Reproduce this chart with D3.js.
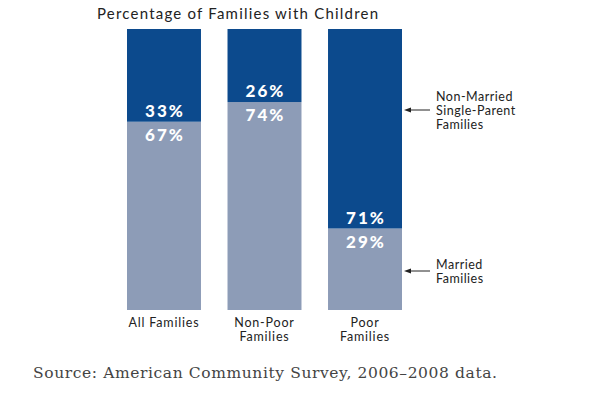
<!DOCTYPE html>
<html><head><meta charset="utf-8">
<script src="https://cdn.jsdelivr.net/npm/d3@7"></script>
<style>body{margin:0;background:#fff;}svg{display:block;}</style>
</head><body>
<svg id="c" width="600" height="400"></svg>
<script>
const categories = ["All Families", "Non-Poor Families", "Poor Families"];
const categoryLines = [["All Families"], ["Non-Poor", "Families"], ["Poor", "Families"]];
const married = [67, 74, 29];
const singleParent = [33, 26, 71];
const seriesLabels = [["Non-Married", "Single-Parent", "Families"], ["Married", "Families"]];
const title = "Percentage of Families with Children";
const source = "Source: American Community Survey, 2006\u20132008 data.";

const svg = d3.select("#c");
const x = d3.scaleBand().domain(categories).range([127, 402]).paddingInner(0.264).paddingOuter(0);
const y = d3.scaleLinear().domain([0, 100]).range([310, 29]);
const dark = "#0c4a8d", light = "#8d9cb7";
const sans = "Lato, 'Open Sans', sans-serif";

svg.append("text").attr("x", 97).attr("y", 19).attr("font-family", sans).attr("font-size", 15)
  .attr("fill", "#222").attr("textLength", 281).attr("lengthAdjust", "spacing").text(title);

const data = categories.map((c, i) => ({c, m: married[i], s: singleParent[i], lines: categoryLines[i]}));
const g = svg.append("g");
g.selectAll(".m").data(data).join("rect").attr("x", d => x(d.c)).attr("width", x.bandwidth())
  .attr("y", d => y(d.m)).attr("height", d => y(0) - y(d.m)).attr("fill", light);
g.selectAll(".s").data(data).join("rect").attr("x", d => x(d.c)).attr("width", x.bandwidth())
  .attr("y", d => y(d.m + d.s)).attr("height", d => y(d.m) - y(d.m + d.s)).attr("fill", dark);

const lab = (sel) => sel.attr("text-anchor", "middle").attr("font-family", sans).attr("font-weight", 900)
  .attr("font-size", 17).attr("letter-spacing", 2).attr("fill", "#fff");
g.selectAll(".ls").data(data).join("text").call(lab)
  .attr("x", d => x(d.c) + x.bandwidth() / 2 + 1).attr("y", d => y(d.m) - 5).text(d => d.s + "%");
g.selectAll(".lm").data(data).join("text").call(lab)
  .attr("x", d => x(d.c) + x.bandwidth() / 2 + 1).attr("y", d => y(d.m) + 19).text(d => d.m + "%");

// category labels
data.forEach(d => {
  d.lines.forEach((t, j) => {
    svg.append("text").attr("x", x(d.c) + x.bandwidth() / 2).attr("y", 327 + j * 14)
      .attr("text-anchor", "middle").attr("font-family", sans).attr("font-size", 12.5)
      .attr("letter-spacing", 0.8).attr("fill", "#222").text(t);
  });
});

// annotations
const last = data[data.length - 1];
const xr = x(last.c) + x.bandwidth();
const ann = [
  {lines: seriesLabels[0], ty: 101, dy: 9},
  {lines: seriesLabels[1], ty: 269, dy: 2}
];
ann.forEach(a => {
  const ay = a.ty + a.dy;
  svg.append("line").attr("x1", xr + 28).attr("x2", xr + 5).attr("y1", ay).attr("y2", ay)
    .attr("stroke", "#222").attr("stroke-width", 1);
  svg.append("path").attr("d", `M${xr + 2},${ay} L${xr + 9},${ay - 2.5} L${xr + 9},${ay + 2.5} Z`).attr("fill", "#222");
  a.lines.forEach((t, j) => {
    svg.append("text").attr("x", 436).attr("y", a.ty + j * 14).attr("font-family", sans)
      .attr("font-size", 12.5).attr("letter-spacing", 0.5).attr("fill", "#222").text(t);
  });
});

svg.append("text").attr("x", 33).attr("y", 378).attr("font-family", "'DejaVu Serif', 'Liberation Serif', serif")
  .attr("font-size", 15.5).attr("fill", "#444").attr("textLength", 464).attr("lengthAdjust", "spacing").text(source);
</script>
</body></html>
